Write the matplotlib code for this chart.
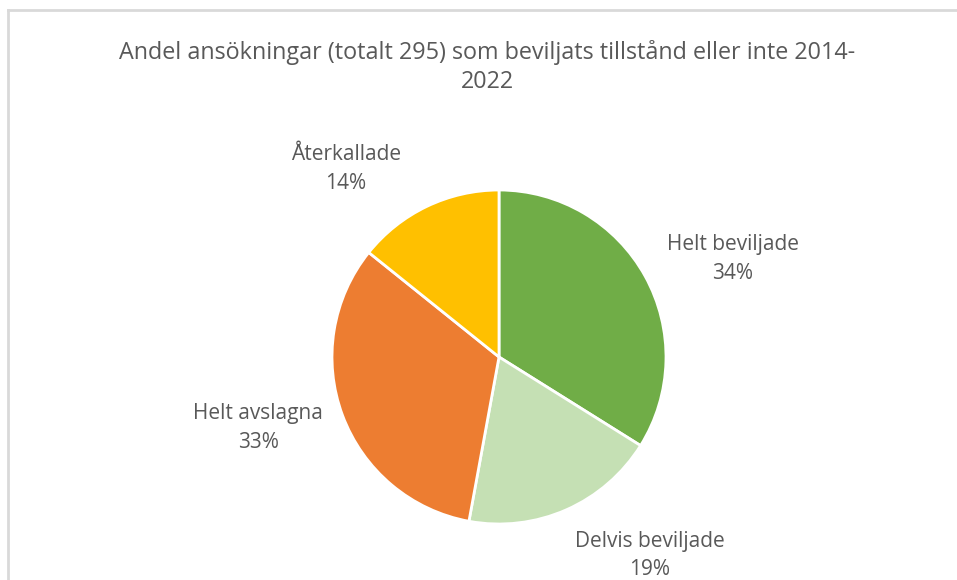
import matplotlib
matplotlib.use("Agg")
import matplotlib.pyplot as plt
from matplotlib.lines import Line2D

categories = ["Helt beviljade", "Delvis beviljade", "Helt avslagna", "Återkallade"]
counts = [100, 56, 97, 42]
percent_labels = ["34%", "19%", "33%", "14%"]
colors = ["#70AD47", "#C5E0B4", "#ED7D31", "#FFC000"]
title = "Andel ansökningar (totalt 295) som beviljats tillstånd eller inte 2014-\n2022"

W, H = 957, 580
fig = plt.figure(figsize=(W / 100, H / 100), dpi=100)
fig.patch.set_facecolor("white")

# chart border (left and top)
fig.add_artist(Line2D([8 / W, 8 / W], [0, 1 - 10 / H], transform=fig.transFigure,
                      color="#D9D9D9", lw=2))
fig.add_artist(Line2D([8 / W, 1], [1 - 10 / H, 1 - 10 / H], transform=fig.transFigure,
                      color="#D9D9D9", lw=2))

cx, cy, r = 499, 357, 167
ax = fig.add_axes([(cx - r) / W, (H - cy - r) / H, 2 * r / W, 2 * r / H])
ax.pie(counts, colors=colors, startangle=90, counterclock=False, radius=1,
       wedgeprops=dict(edgecolor="white", linewidth=2))
ax.set_xlim(-1, 1)
ax.set_ylim(-1, 1)
ax.set_aspect("equal")
ax.axis("off")

font = "Open Sans"
txtcol = "#595959"
label_pos = [(1.40, 0.587), (0.904, -1.19), (-1.443, -0.425), (-0.916, 1.126)]
for cat, pct, (lx, ly) in zip(categories, percent_labels, label_pos):
    ax.text(lx, ly, f"{cat}\n{pct}", ha="center", va="center", fontsize=15,
            color=txtcol, family=font, linespacing=1.45, clip_on=False)

fig.text(487 / W, 1 - 67 / H, title, ha="center", va="center", fontsize=16.8,
         color=txtcol, family=font, linespacing=1.3)

fig.savefig("out.png", dpi=100, facecolor="white")
